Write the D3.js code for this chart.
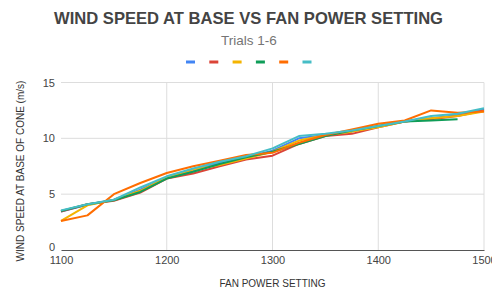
<!DOCTYPE html>
<html>
<head>
<meta charset="utf-8">
<script src="https://cdn.jsdelivr.net/npm/d3@7"></script>
<style>
  body { margin: 0; background: #fff; }
  svg { display: block; font-family: "Liberation Sans", Arial, sans-serif; }
</style>
</head>
<body>
<div id="chart"></div>
<script>
// fan power setting (x)
const powerSettings = [1100, 1125, 1150, 1175, 1200, 1225, 1250, 1275, 1300, 1325, 1350, 1375, 1400, 1425, 1450, 1475, 1500];

// wind speed per trial (m/s)
const trial1 = [3.45, 4.05, 4.5, 5.4, 6.5, 7.1, 7.8, 8.3, 8.9, 10.0, 10.3, 10.6, 11.1, 11.5, 11.8, 12.1, 12.6];
const trial2 = [3.45, 4.1, 4.4, 5.15, 6.4, 6.85, 7.5, 8.1, 8.45, 9.5, 10.2, 10.4, 11.0, 11.5, 11.7, 12.0, 12.5];
const trial3 = [2.6, 4.0, 4.5, 5.3, 6.5, 7.2, 7.6, 8.2, 8.8, 9.8, 10.3, 10.6, 11.0, 11.5, 11.8, 12.0, 12.4];
const trial4 = [3.5, 4.1, 4.45, 5.2, 6.4, 7.0, 7.7, 8.3, 8.8, 9.5, 10.2, 10.7, 11.1, 11.5, 11.6, 11.7, null];
const trial5 = [2.6, 3.1, 5.0, 6.0, 6.9, 7.5, 8.0, 8.5, 8.7, 9.6, 10.3, 10.8, 11.3, 11.6, 12.5, 12.3, 12.4];
const trial6 = [3.55, 4.1, 4.5, 5.6, 6.6, 7.3, 7.9, 8.4, 9.1, 10.2, 10.4, 10.7, 11.1, 11.5, 12.0, 12.2, 12.7];

const xTicks = [1100, 1200, 1300, 1400, 1500];
const yTicks = [0, 5, 10, 15];
const colors = ['#4285f4', '#db4437', '#f4b400', '#0f9d58', '#ff6d01', '#46bdc6'];

const series = [trial1, trial2, trial3, trial4, trial5, trial6];

const width = 492;
const height = 292;
const plot = { left: 61, right: 484, top: 82.5, bottom: 250 };

const svg = d3.select('#chart').append('svg')
  .attr('width', width)
  .attr('height', height);

const x = d3.scaleLinear().domain([1100, 1500]).range([plot.left, plot.right]);
const y = d3.scaleLinear().domain([0, 15]).range([plot.bottom, plot.top]);

// title
svg.append('text')
  .attr('x', 248.5).attr('y', 24)
  .attr('text-anchor', 'middle')
  .style('font-size', '16.6px')
  .style('font-weight', 'bold')
  .style('fill', '#444')
  .text('WIND SPEED AT BASE VS FAN POWER SETTING');

svg.append('text')
  .attr('x', 249).attr('y', 45)
  .attr('text-anchor', 'middle')
  .style('font-size', '13.5px')
  .style('fill', '#757575')
  .text('Trials 1-6');

// legend swatches
svg.selectAll('.legend')
  .data(colors)
  .enter()
  .append('rect')
  .attr('class', 'legend')
  .attr('x', (d, i) => 186 + i * 23.3)
  .attr('y', 60.5)
  .attr('width', 9)
  .attr('height', 3)
  .style('fill', d => d);

// grid
const grid = svg.append('g').attr('class', 'grid');
grid.selectAll('.hline')
  .data(yTicks.filter(d => d > 0))
  .enter().append('line')
  .attr('x1', plot.left).attr('x2', plot.right)
  .attr('y1', d => y(d)).attr('y2', d => y(d))
  .style('stroke', '#ddd').style('stroke-width', 1);
grid.selectAll('.vline')
  .data(xTicks.filter(d => d > 1100))
  .enter().append('line')
  .attr('x1', d => x(d)).attr('x2', d => x(d))
  .attr('y1', plot.top).attr('y2', plot.bottom)
  .style('stroke', '#ddd').style('stroke-width', 1);

// axes
const xAxis = d3.axisBottom(x).tickValues(xTicks).tickSize(0).tickPadding(6).tickFormat(d3.format('d'));
const yAxis = d3.axisLeft(y).tickValues(yTicks).tickSize(0).tickPadding(6);

const gx = svg.append('g')
  .attr('transform', `translate(0, ${plot.bottom})`)
  .call(xAxis);
gx.select('.domain').style('stroke', '#555').style('stroke-width', 1.2);
gx.selectAll('text').style('font-size', '11px').style('fill', '#444').style('font-family', 'Liberation Sans, Arial, sans-serif');

const gy = svg.append('g')
  .attr('transform', `translate(${plot.left}, 0)`)
  .call(yAxis);
gy.select('.domain').remove();
gy.selectAll('text').style('font-size', '11px').style('fill', '#444').style('font-family', 'Liberation Sans, Arial, sans-serif');
// lift the zero label a little off the baseline, as in the original
gy.selectAll('.tick').filter(d => d === 0).select('text').attr('dy', '0.05em');

// axis titles
svg.append('text')
  .attr('x', 272.5).attr('y', 287)
  .attr('text-anchor', 'middle')
  .style('font-size', '10px')
  .style('fill', '#333')
  .text('FAN POWER SETTING');

svg.append('text')
  .attr('transform', 'translate(24, 171) rotate(-90)')
  .attr('text-anchor', 'middle')
  .style('font-size', '10px')
  .style('fill', '#333')
  .text('WIND SPEED AT BASE OF CONE (m/s)');

// lines
const line = d3.line()
  .defined(d => d[1] !== null)
  .x(d => x(d[0]))
  .y(d => y(d[1]));

svg.append('g').attr('class', 'lines')
  .selectAll('path')
  .data(series)
  .enter().append('path')
  .attr('d', s => line(powerSettings.map((p, i) => [p, s[i]])))
  .style('fill', 'none')
  .style('stroke', (d, i) => colors[i])
  .style('stroke-width', 2)
  .style('stroke-linejoin', 'round');
</script>
</body>
</html>
